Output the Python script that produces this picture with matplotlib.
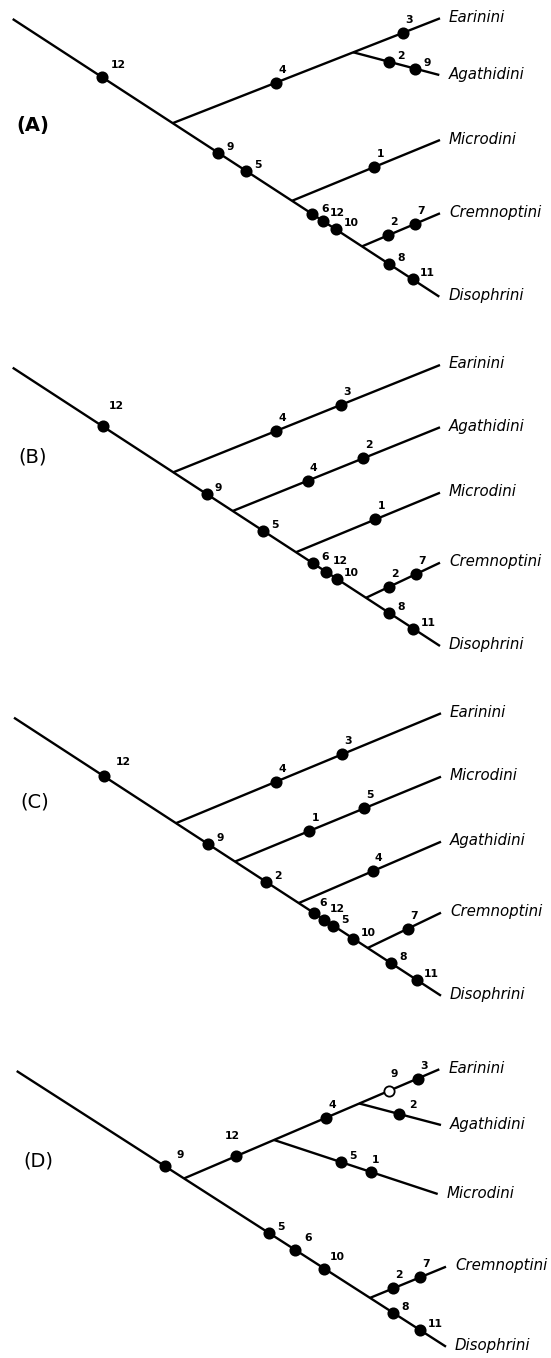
import matplotlib
matplotlib.use("Agg")
import matplotlib.pyplot as plt

# Four alternative cladograms of the tribes (pixel-like coordinates, y down)
# each edge: (name, parent, x where it leaves the parent, tip x, tip y)
# each mark: (edge, x along edge, character number, filled)

A_root = (12.7, 19.0)
A_tip = (439.3, 296.7)
A_edges = [("Earinini", "spine", 172.7, 440.0, 18.3),
           ("Agathidini", "Earinini", 353.3, 439.3, 75.0),
           ("Microdini", "spine", 292.0, 440.0, 140.0),
           ("Cremnoptini", "spine", 362.0, 440.0, 213.3)]
A_marks = [("spine", 101.7, "12", True), ("spine", 218.0, "9", True),
           ("spine", 246.0, "5", True), ("spine", 312.0, "6", True),
           ("spine", 322.7, "12", True), ("spine", 336.0, "10", True),
           ("spine", 388.7, "8", True), ("spine", 412.7, "11", True),
           ("Earinini", 276.0, "4", True), ("Earinini", 402.7, "3", True),
           ("Agathidini", 388.7, "2", True), ("Agathidini", 415.3, "9", True),
           ("Microdini", 374.3, "1", True),
           ("Cremnoptini", 387.7, "2", True), ("Cremnoptini", 415.3, "7", True)]

B_root = (12.7, 367.7)
B_tip = (440.0, 646.0)
B_edges = [("Earinini", "spine", 173.3, 440.0, 365.0),
           ("Agathidini", "spine", 232.7, 440.0, 427.3),
           ("Microdini", "spine", 296.0, 440.0, 492.7),
           ("Cremnoptini", "spine", 366.0, 440.0, 562.7)]
B_marks = [("spine", 102.7, "12", True), ("spine", 206.7, "9", True),
           ("spine", 263.3, "5", True), ("spine", 312.7, "6", True),
           ("spine", 326.0, "12", True), ("spine", 336.7, "10", True),
           ("spine", 389.3, "8", True), ("spine", 413.3, "11", True),
           ("Earinini", 276.0, "4", True), ("Earinini", 341.0, "3", True),
           ("Agathidini", 307.7, "4", True), ("Agathidini", 363.3, "2", True),
           ("Microdini", 375.3, "1", True),
           ("Cremnoptini", 389.3, "2", True), ("Cremnoptini", 416.0, "7", True)]

C_root = (14.0, 717.7)
C_tip = (441.0, 995.7)
C_edges = [("Earinini", "spine", 176.0, 441.0, 713.3),
           ("Microdini", "spine", 235.0, 441.0, 776.7),
           ("Agathidini", "spine", 298.7, 441.0, 841.7),
           ("Cremnoptini", "spine", 367.7, 441.0, 912.7)]
C_marks = [("spine", 104.0, "12", True), ("spine", 208.3, "9", True),
           ("spine", 266.0, "2", True), ("spine", 314.3, "6", True),
           ("spine", 324.3, "12", True), ("spine", 333.3, "5", True),
           ("spine", 353.3, "10", True), ("spine", 391.0, "8", True),
           ("spine", 416.7, "11", True),
           ("Earinini", 276.0, "4", True), ("Earinini", 342.0, "3", True),
           ("Microdini", 309.3, "1", True), ("Microdini", 364.3, "5", True),
           ("Agathidini", 372.7, "4", True),
           ("Cremnoptini", 407.7, "7", True)]

D_root = (16.7, 1071.0)
D_tip = (446.0, 1346.7)
D_edges = [("Earinini", "spine", 184.0, 439.3, 1069.3),
           ("Agathidini", "Earinini", 359.3, 441.0, 1125.0),
           ("Microdini", "Earinini", 274.0, 437.7, 1194.0),
           ("Cremnoptini", "spine", 370.0, 446.0, 1266.7)]
D_marks = [("spine", 165.0, "9", True), ("spine", 269.3, "5", True),
           ("spine", 295.3, "6", True), ("spine", 324.3, "10", True),
           ("spine", 393.3, "8", True), ("spine", 420.0, "11", True),
           ("Earinini", 236.0, "12", True), ("Earinini", 326.0, "4", True),
           ("Earinini", 389.3, "9", False), ("Earinini", 417.7, "3", True),
           ("Agathidini", 399.3, "2", True),
           ("Microdini", 341.0, "5", True), ("Microdini", 371.0, "1", True),
           ("Cremnoptini", 393.3, "2", True), ("Cremnoptini", 420.0, "7", True)]

panels = [("(A)", A_root, A_tip, A_edges, A_marks),
          ("(B)", B_root, B_tip, B_edges, B_marks),
          ("(C)", C_root, C_tip, C_edges, C_marks),
          ("(D)", D_root, D_tip, D_edges, D_marks)]

# where the panel letters sit
letter_pos = {"(A)": (33, 126), "(B)": (33, 457), "(C)": (35, 802), "(D)": (38, 1161)}

# hand nudges for number labels that don't follow the usual placement
nudge = {("(A)", 0): (17, -12), ("(A)", 4): (15, -8), ("(A)", 3): (13, -5),
         ("(B)", 0): (14, -20), ("(B)", 4): (14, -11),
         ("(C)", 0): (19, -14), ("(C)", 3): (9, -10), ("(C)", 4): (13, -11),
         ("(D)", 0): (15, -11), ("(D)", 6): (-4, -20), ("(D)", 8): (5, -17),
         ("(D)", 10): (14, -9), ("(D)", 12): (5, -12),
         ("(D)", 2): (13, -12), ("(D)", 3): (13, -12)}

LW = 1.7
fig = plt.figure(figsize=(5.51, 13.58), dpi=100)
ax = fig.add_axes([0, 0, 1, 1])
ax.set_xlim(0, 551)
ax.set_ylim(1358, 0)
ax.axis("off")


def y_on(seg, x):
    (x0, y0), (x1, y1) = seg
    return y0 + (y1 - y0) * (x - x0) / (x1 - x0)


for letter, root, tip, edges, marks in panels:
    segs = {"spine": (root, tip)}
    for name, parent, sx, tx, ty in edges:
        segs[name] = ((sx, y_on(segs[parent], sx)), (tx, ty))

    for name, seg in segs.items():
        (x0, y0), (x1, y1) = seg
        ax.plot([x0, x1], [y0, y1], color="black", lw=LW,
                solid_capstyle="butt", zorder=1)
        ax.text(x1 + 9, y1 - 1, "Disophrini" if name == "spine" else name,
                style="italic", fontsize=10.8, fontweight="medium",
                ha="left", va="center")

    for i, (edge, x, lab, filled) in enumerate(marks):
        y = y_on(segs[edge], x)
        ax.plot(x, y, "o", ms=7.4, mfc="black" if filled else "white",
                mec="black", mew=1.3, zorder=3)
        (x0, y0), (x1, y1) = segs[edge]
        extra = 3 if len(lab) > 1 else 0
        if (letter, i) in nudge:
            dx, dy = nudge[(letter, i)]
        elif y1 > y0:
            dx, dy = 12 + extra, -6
        else:
            dx, dy = 6 + extra, -13
        ax.text(x + dx, y + dy, lab, fontsize=7.8, fontweight="bold",
                ha="center", va="center")

    lx, ly = letter_pos[letter]
    ax.text(lx, ly, letter, fontsize=14,
            fontweight="bold" if letter == "(A)" else "normal",
            ha="center", va="center")

fig.savefig("out.png", dpi=100)
